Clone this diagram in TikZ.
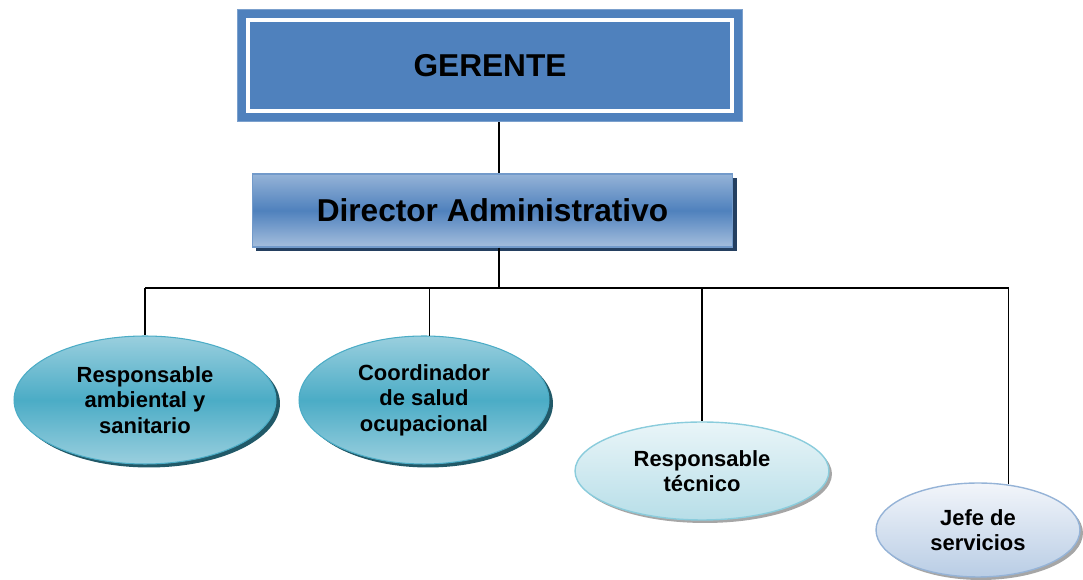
\documentclass[tikz,border=0pt]{standalone}
\usepackage{fontspec}
\setmainfont{Liberation Sans}
\usetikzlibrary{shapes.geometric,shadows}

\definecolor{gerblue}{HTML}{4F81BD}
\definecolor{dirlight}{HTML}{95B3D7}
\definecolor{dirshadow}{HTML}{243F60}
\definecolor{tealmid}{HTML}{4BACC6}
\definecolor{teallight}{HTML}{9ACFDE}
\definecolor{tealshadow}{HTML}{215968}
\definecolor{cyanpale}{HTML}{E9F5F8}
\definecolor{cyanlow}{HTML}{B7DEE8}
\definecolor{cyanedge}{HTML}{8ACCDC}
\definecolor{bluepale}{HTML}{F2F5FA}
\definecolor{bluelow}{HTML}{B9CDE5}
\definecolor{blueedge}{HTML}{95B3D7}
\definecolor{greyshadow}{HTML}{A6A6A6}

\begin{document}
\begin{tikzpicture}[x=0.02cm,y=-0.02cm,
    bigtext/.style={font=\bfseries\fontsize{18}{21}\selectfont},
    smalltext/.style={font=\bfseries\fontsize{12.5}{14.6}\selectfont,align=center},
    tealoval/.style={ellipse,smalltext,inner sep=0pt,draw=tealmid,line width=0.6pt,
        top color=teallight,bottom color=teallight,middle color=tealmid,
        drop shadow={shadow xshift=0.08cm,shadow yshift=-0.07cm,fill=tealshadow,opacity=1}},
    paleoval/.style={ellipse,smalltext,inner sep=0pt,line width=0.8pt,
        drop shadow={shadow xshift=0.06cm,shadow yshift=-0.06cm,fill=greyshadow,opacity=1}},
    link/.style={line width=0.8pt,black}]
    \useasboundingbox (0,0) rectangle (1083,580);

    % top box
    \node[bigtext,rectangle,fill=gerblue,draw=gerblue!75!white,line width=0.6pt,
        minimum width=10.1cm,minimum height=2.24cm] (ger) at (490,65.5) {GERENTE};
    \draw[white,line width=0.09cm] ([xshift=0.22cm,yshift=-0.22cm]ger.north west)
        rectangle ([xshift=-0.22cm,yshift=0.22cm]ger.south east);

    \node[bigtext,rectangle,draw=gerblue!80!white,line width=0.6pt,
        top color=dirlight,bottom color=dirlight!85!white,middle color=gerblue,
        minimum width=9.62cm,minimum height=1.46cm,
        drop shadow={shadow xshift=0.08cm,shadow yshift=-0.08cm,fill=dirshadow,opacity=1}]
        (dir) at (492.5,210.5) {Director Administrativo};

    % lower level
    \node[tealoval,minimum width=5.24cm,minimum height=2.56cm] (amb) at (145,400)
        {Responsable\\ambiental y\\sanitario};
    \node[tealoval,minimum width=5.0cm,minimum height=2.56cm] (sal) at (424,400)
        {Coordinador\\de salud\\ocupacional};
    \node[paleoval,draw=cyanedge,top color=cyanpale,bottom color=cyanlow,
        minimum width=5.08cm,minimum height=1.96cm] (tec) at (702,471)
        {Responsable\\técnico};
    \node[paleoval,draw=blueedge,top color=bluepale,bottom color=bluelow,
        minimum width=4.08cm,minimum height=1.88cm] (jef) at (978,530)
        {Jefe de\\servicios};

    % connectors
    \coordinate (trunk) at (499,288);
    \draw[link] (trunk |- ger.south) -- (trunk |- dir.north);
    \draw[link] (trunk |- dir.south) -- (trunk);
    \draw[link] (amb.north |- trunk) -- (jef.56 |- trunk);
    \draw[link] (amb.north |- trunk) -- (amb.north);
    \draw[link] (sal.85 |- trunk) -- (sal.85);
    \draw[link] (tec.north |- trunk) -- (tec.north);
    \draw[link] (jef.56 |- trunk) -- (jef.56);
\end{tikzpicture}
\end{document}
